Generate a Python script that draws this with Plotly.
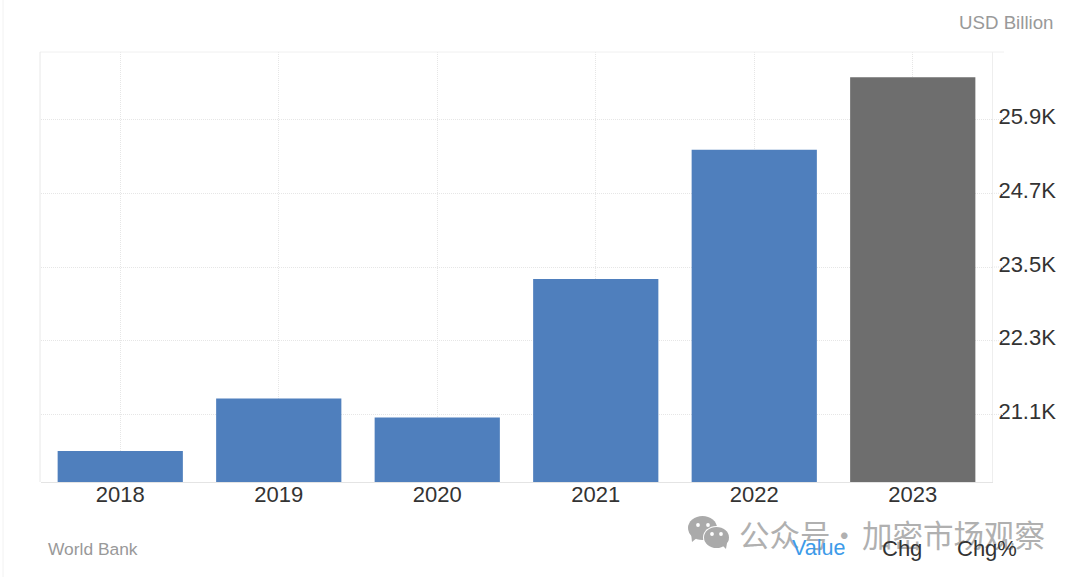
import plotly.graph_objects as go

years = ["2018", "2019", "2020", "2021", "2022", "2023"]
values = [20505, 21360, 21050, 23305, 25410, 26590]
bar_colors = ["#4f7fbd", "#4f7fbd", "#4f7fbd", "#4f7fbd", "#4f7fbd", "#6e6e6e"]
y_ticks = [21100, 22300, 23500, 24700, 25900]
y_labels = ["21.1K", "22.3K", "23.5K", "24.7K", "25.9K"]

W, H = 1080, 577
L, R, T, B = 41, 992, 52, 482


def px(x):
    return (x - L) / (R - L)


def py(y):
    return (B - y) / (B - T)


fig = go.Figure(
    go.Bar(x=years, y=values, marker=dict(color=bar_colors, line=dict(width=0)), width=0.79)
)

grid = "#e6e6e6"
fig.update_xaxes(
    type="category",
    range=[-0.5, 5.5],
    showgrid=True,
    gridcolor=grid,
    griddash="1px,1px",
    gridwidth=1,
    showline=True,
    linecolor="#e4e4e4",
    linewidth=1,
    ticks="",
    ticklabelstandoff=-7,
    tickfont=dict(family="Liberation Sans", size=22, color="#333333"),
    fixedrange=True,
)
fig.update_yaxes(
    side="right",
    range=[20000, 27000],
    tickmode="array",
    tickvals=y_ticks,
    ticktext=y_labels,
    showgrid=True,
    gridcolor=grid,
    griddash="1px,1px",
    gridwidth=1,
    showline=True,
    linecolor="#eeeeee",
    linewidth=1,
    ticks="",
    ticklabelstandoff=1,
    ticklabelshift=-3,
    zeroline=False,
    tickfont=dict(family="Liberation Sans", size=22, color="#333333"),
    fixedrange=True,
)


def label(text, x, y, size, color, family="Liberation Sans", anchor="left"):
    return dict(
        text=text,
        x=px(x),
        y=py(y),
        xref="paper",
        yref="paper",
        xanchor=anchor,
        yanchor="middle",
        showarrow=False,
        align=anchor,
        borderpad=0,
        font=dict(family=family, size=size, color=color),
    )


wm = "#b0b0b0"
annotations = [
    label("公众号", 738, 534, 30.5, wm, "Noto Sans CJK SC"),
    label("·", 828, 534, 30.5, wm, "Noto Sans CJK SC"),
    label("加密市场观察", 861, 534, 30.5, wm, "Noto Sans CJK SC"),
    label("USD Billion", 1055, 22, 18.7, "#999999", anchor="right"),
    label("World Bank", 46.5, 549, 17.4, "#999999"),
    label("Value", 790.5, 548, 21.5, "#3d9be9"),
    label("Chg", 880.5, 548, 22, "#333333"),
    label("Chg%", 955.5, 548, 22, "#333333"),
]


def bubble(cx, cy, rx, ry, color):
    return dict(
        type="circle",
        xref="paper",
        yref="paper",
        x0=px(cx - rx),
        x1=px(cx + rx),
        y0=py(cy + ry),
        y1=py(cy - ry),
        fillcolor=color,
        line=dict(width=0),
        layer="above",
    )


def dot(cx, cy, color="#ffffff"):
    return bubble(cx, cy, 1.9, 1.9, color)


def tail(points, color):
    d = "M " + " L ".join(f"{px(a):.5f},{py(b):.5f}" for a, b in points) + " Z"
    return dict(type="path", xref="paper", yref="paper", path=d, fillcolor=color,
                line=dict(width=0), layer="above")


ic = "#aaaaaa"
shapes = [
    tail([(691, 533), (698, 537), (692, 542)], ic),
    bubble(702.5, 528, 14.5, 12, ic),
    bubble(716.5, 537.5, 13.5, 11.5, "#ffffff"),
    tail([(721, 544), (727, 543), (726, 549)], ic),
    bubble(716.5, 537.5, 12.5, 10.5, ic),
    dot(698, 525),
    dot(708, 525),
    dot(712, 534),
    dot(721, 534),
    # page edge at the left
    dict(type="line", xref="paper", yref="paper", x0=px(3), x1=px(3), y0=py(0), y1=py(577),
         line=dict(color="#f2f2f2", width=1)),
    # top edge and left edge of the plot
    dict(type="line", xref="paper", yref="paper", x0=px(40), x1=px(1004), y0=1, y1=1,
         line=dict(color="#f0f0f0", width=1)),
    dict(type="line", xref="paper", yref="paper", x0=px(40), x1=px(40), y0=0, y1=1,
         line=dict(color="#e8e8e8", width=1)),
]
for t in y_ticks:
    shapes.append(
        dict(type="line", xref="paper", yref="y", x0=1, x1=px(1004), y0=t, y1=t,
             line=dict(color="#e6e6e6", width=1, dash="1px,1px"))
    )

fig.update_layout(
    width=W,
    height=H,
    margin=dict(l=L, r=W - R, t=T, b=H - B, pad=0),
    paper_bgcolor="#ffffff",
    plot_bgcolor="#ffffff",
    showlegend=False,
    annotations=annotations,
    shapes=shapes,
)

fig.write_html(
    "out.html",
    config={"displayModeBar": False},
    post_script="document.body.style.margin='0';",
)
